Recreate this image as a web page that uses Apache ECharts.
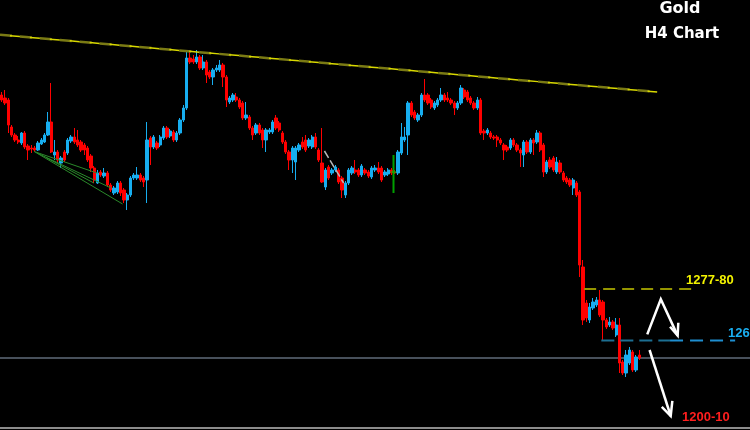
<!DOCTYPE html>
<html><head><meta charset="utf-8">
<script src="https://cdn.jsdelivr.net/npm/echarts@6/dist/echarts.min.js"></script>
<style>html,body{margin:0;padding:0;background:#000;}#c{width:750px;height:430px;}</style>
</head><body><div id="c"></div>
<script>
// H4 candles (prices)
const opens = [
1326.25,1325.5,1325,1318.25,1316.25,1315,1314.25,1316.75,1313.5,1313,
1313,1312.5,1314,1314.5,1316.25,1319.5,1311.25,1312,1309.25,1312,
1311.75,1314.75,1315.75,1315,1314.5,1313.75,1313,1311,1308,1304.25,
1307,1306,1306.75,1303.75,1301.75,1302,1304.25,1302.5,1300,1301.25,
1305.5,1305.5,1306.25,1305.5,1305,1315.5,1313.25,1314.25,1313.75,1315.5,
1318,1316,1317,1315,1316.75,1320,1323,1335.5,1335.25,1334.5,
1335.75,1333,1334.5,1332,1330.75,1332.5,1332.5,1333.75,1330.75,1324.5,
1325,1325.75,1325,1324.25,1320.5,1320.75,1318,1316.75,1318.75,1317.5,
1315,1317,1317,1320.5,1319.25,1316.75,1314.5,1312,1310,1309.5,
1312.5,1314.5,1315,1313.5,1313.25,1315.75,1312.5,1309.25,1303.25,1308.25,
1306.75,1307.5,1307.5,1305.5,1301.25,1304.25,1306.75,1307.5,1307.5,1306.25,
1307.5,1307,1305.75,1307.5,1308,1308,1306.25,1306.5,1307.5,1307,
1306.75,1311.75,1315,1316.25,1324.25,1322,1320,1321.25,1326.25,1326.25,
1325,1323,1323.75,1325,1326.25,1325.5,1325,1324.25,1323,1324.25,
1327.5,1327,1325.5,1324.25,1323,1325,1317.25,1316.75,1316.75,1315.75,
1315.75,1315,1313.75,1313.25,1313,1315,1313.75,1312.5,1311.25,1314.5,
1312,1315,1314.5,1316.75,1313.75,1307,1310,1310.5,1307,1309.25,
1306.75,1305.5,1305,1303,1304.25,1302,1283.25,1274.25,1270,1273,
1273.75,1275,1274.5,1270,1268.75,1269.5,1266.25,1268.75,1259.5,1256.75,
1259.25,1262,1257.5,1261.25];
const closes = [
1325,1324.25,1318.75,1316.25,1315,1314.5,1316.75,1313.25,1312.5,1312.75,
1312.5,1314.25,1315,1316.25,1319.5,1312,1312,1310,1310.5,1310,
1315,1315.75,1314.5,1313.75,1312.5,1312.5,1310,1308,1305,1306.75,
1306.25,1306.75,1303.75,1302.5,1303,1304.25,1301.75,1300,1301.25,1305.5,
1306.25,1306.25,1305,1304.5,1315,1313.25,1315.75,1313,1315.75,1318,
1315.75,1317.25,1315,1316.75,1320,1323,1335.5,1334.5,1334.5,1335.75,
1333,1334.5,1331.25,1330.75,1332.5,1333,1333.75,1330.75,1325,1325.5,
1326.25,1325,1323.25,1320.5,1321.25,1318,1316.25,1318.75,1316.75,1315,
1317.5,1317.5,1319.5,1318,1317.5,1314.5,1312,1310,1313,1313,
1313.75,1313.25,1312.5,1315,1315.75,1313.25,1310,1304.5,1307.5,1305.5,
1307.5,1308.25,1304.5,1302.5,1304.25,1307.5,1308,1307,1306.25,1308.5,
1306.75,1306,1308,1308,1307,1305,1307,1307.5,1306.75,1306.75,
1312,1315.75,1315.75,1324.25,1321.25,1320.5,1321.25,1326.25,1325,1324.25,
1323.25,1324.25,1325,1326.25,1325,1325,1324.25,1323,1324.25,1328,
1325.75,1325,1324.25,1323,1325,1316.75,1316.75,1317.5,1315.75,1315.5,
1315,1314.25,1312.5,1312.5,1315,1313.75,1312.5,1311.75,1314.5,1312,
1315,1314.25,1316.75,1312.5,1307,1309.5,1308.25,1307.5,1309.5,1307,
1305,1304.5,1303.75,1305,1301.25,1283.75,1270,1270.5,1273.25,1274.5,
1275,1271.25,1270,1268.25,1269.5,1268,1268.75,1259.25,1256.75,1261.25,
1262.5,1257.5,1260.75,1260.5];
const lows = [
1324.5,1323.75,1316.75,1315.75,1314.5,1314,1313.75,1312.75,1310,1311.75,
1312,1312.25,1313.75,1314.25,1316,1311.75,1310,1309.25,1308,1309.5,
1311.25,1314.25,1314,1313.25,1312,1311.25,1309.5,1307,1304.25,1304,
1305.75,1305.5,1303.25,1302,1301.25,1301.5,1301,1299.25,1297.5,1300.75,
1305,1305,1304.5,1303.25,1299.25,1308.75,1312.75,1312.5,1313.25,1315,
1315.25,1315.5,1314.5,1314.5,1316.25,1319.5,1322.5,1334,1334,1334,
1332.5,1332.5,1329.25,1330.25,1328.75,1332,1332,1328.25,1323.25,1324,
1324.5,1324.5,1322.75,1320,1320,1317.5,1315,1316.25,1316.25,1313,
1312,1316.5,1316.5,1317.5,1317,1314,1311.5,1307.5,1306.75,1305,
1312,1312.75,1312,1313,1312.75,1312.75,1309.5,1304.25,1302.5,1305,
1306.25,1307,1304,1300.5,1300.5,1303.75,1306.25,1306.5,1305.75,1305.75,
1306.25,1305.5,1305.25,1307,1306.5,1304.5,1305.75,1306,1306.25,1306.5,
1306.25,1311.25,1314.5,1311.25,1320.75,1320,1319.5,1320.75,1324.5,1323.75,
1322.75,1322.5,1323.25,1324.5,1324.5,1324.5,1323.75,1321.25,1322.5,1323.75,
1325.25,1324.5,1323.75,1322.5,1322.5,1316.25,1315,1316.25,1315.25,1315,
1313.25,1313.75,1310,1312,1312.5,1313.25,1312,1308.25,1308.25,1311.5,
1311.5,1311.25,1314,1312,1305.75,1306.5,1307.75,1307,1306.5,1306.5,
1304.5,1304,1303.25,1301.25,1300.75,1280.75,1268.75,1269.5,1269.25,1272.5,
1273.25,1270.75,1265,1267.75,1268.25,1267.5,1265.75,1256.75,1256.25,1255.75,
1258.75,1257,1257,1260];
const highs = [
1327,1327.5,1325.5,1318.75,1316.75,1316,1317,1317.25,1314,1313.75,
1313.5,1314.75,1315.5,1316.75,1322,1329.25,1315,1312.5,1311,1312.5,
1315.5,1316.25,1318,1317.5,1315,1314.25,1313.5,1311.5,1308.5,1307.5,
1307.5,1308,1307.25,1304.25,1303.5,1304.75,1304.75,1303,1301.75,1306,
1306.75,1308.25,1306.75,1306,1319.5,1316,1316.25,1314.75,1316.25,1318.5,
1318.5,1317.75,1317.5,1317.25,1320.5,1323.75,1337,1337,1336.25,1337.5,
1336.25,1336.25,1335,1332.5,1333,1333.75,1335,1334.25,1331.25,1326,
1326.75,1326.75,1325.5,1324.75,1324.5,1321.25,1318.5,1319.25,1319.25,1318,
1318,1318,1320,1321.25,1319.75,1317.25,1315,1312.5,1313.5,1313.5,
1314.25,1315.75,1316.25,1315.5,1316.25,1316.75,1313,1318,1308,1308.75,
1308,1308.75,1308,1306,1304.75,1308,1308.5,1310,1308,1309,
1308,1307.5,1308.5,1308.75,1309.5,1308.5,1307.5,1308,1308,1307.5,
1312.5,1319.25,1318.25,1324.75,1324.75,1322.5,1321.75,1326.75,1330.25,1326.75,
1325.5,1324.75,1325.5,1328,1326.75,1327,1325.5,1324.75,1324.75,1328.75,
1328,1327.5,1326,1324.75,1325.75,1325.5,1317.75,1318,1317.25,1316.25,
1316.25,1315.5,1314.25,1313.75,1315.5,1315.5,1314.25,1313,1315,1315,
1315.5,1315.5,1317.5,1317.25,1314.25,1310,1310.75,1311,1310.75,1310,
1307.25,1306,1305.5,1305.5,1304.75,1302.5,1285,1275,1274.25,1275.5,
1275.75,1277.5,1275,1270.5,1270.75,1270,1270.5,1270.5,1260,1262.5,
1263.25,1262.5,1261.25,1262.5];

// bar slots on the x axis (candles + empty space to the right for the notes)
const slotCount = 227;
const categories = Array.from({length: slotCount}, (_, i) => 'H4-' + (i + 1));

// annotation lines, in [bar index, price]
const trendLine = [[-0.5, 1341.3], [198.4, 1327.0]];
const resistLine = [[176.3, 1277.75], [209.3, 1277.75]];
const supportLineA = [[181.5, 1264.9], [202.3, 1264.9]];
const supportLineB = [[202.3, 1264.9], [222.0, 1264.9]];
const priceLine = [[-0.5, 1260.5], [226.5, 1260.5]];
const bottomLine = [[-0.5, 1243.0], [226.5, 1243.0]];
const arrowBounce = [[195.4, 1266.4], [199.5, 1275.2], [204.6, 1266.1]];
const arrowBounceHead = [[202.3, 1268.3], [204.6, 1266.1], [204.8, 1269.3]];
const arrowDrop = [[196.1, 1262.5], [202.5, 1246.0]];
const arrowDropHead = [[199.8, 1248.3], [202.5, 1246.0], [203.0, 1249.8]];
const greenFan = [
  [[9.9, 1312.1], [29.0, 1306.7]],
  [[9.9, 1312.1], [36.6, 1299.0]],
  [[10.7, 1311.75], [33.1, 1303.0]],
  [[13.7, 1310.5], [27.9, 1304.25]]
];
const greenMarker = [[118.6, 1311.25], [118.6, 1301.75]];
const greenTick = [[117.7, 1307.0], [119.5, 1307.0]];
const grayDiag = [[97.7, 1312.25], [103.5, 1304.25]];

// level texts
const titleText = 'Gold';
const subtitleText = 'H4 Chart';
const resistLabel = '1277-80';
const supportLabel = '126';
const targetLabel = '1200-10';

const candleData = opens.map((o, i) => [o, closes[i], lows[i], highs[i]]);
while (candleData.length < slotCount) candleData.push('-');

const BLUE = '#17aef0', RED = '#ff0000';
function seg(coords, style) { return {coords: coords, lineStyle: Object.assign({opacity: 1, curveness: 0}, style)}; }

const annotations = [
  seg(bottomLine, {color: '#8c8c8c', width: 2}),
  seg(priceLine, {color: '#8fa0b6', width: 1}),
  seg(trendLine, {color: '#7a7a14', width: 2.5, type: [12, 8]}),
  seg(trendLine, {color: '#d8d800', width: 1.5, type: [10, 10], dashOffset: 10}),
  seg(resistLine, {color: '#959500', width: 2, type: [12, 7]}),
  seg(supportLineA, {color: '#1c6f92', width: 2, type: [13, 6]}),
  seg(supportLineB, {color: '#1e8ed0', width: 2, type: [13, 7]}),
  ...greenFan.map(g => seg(g, {color: '#2a8a2a', width: 1})),
  seg(greenMarker, {color: '#00a000', width: 2}),
  seg(greenTick, {color: '#00c000', width: 1}),
  seg(grayDiag, {color: '#b8b8b8', width: 1.5, type: [8, 3]}),
  seg(arrowBounce, {color: '#ffffff', width: 2.5}),
  seg(arrowBounceHead, {color: '#ffffff', width: 2.5}),
  seg(arrowDrop, {color: '#ffffff', width: 2.5}),
  seg(arrowDropHead, {color: '#ffffff', width: 2.5})
];

const chart = echarts.init(document.getElementById('c'), null, {renderer: 'canvas'});
chart.setOption({
  backgroundColor: '#000000',
  animation: false,
  grid: {left: -1, right: 0, top: 0, bottom: 0, containLabel: false},
  xAxis: [
    {type: 'category', data: categories, boundaryGap: true, show: false},
    {type: 'value', min: -0.5, max: slotCount - 0.5, show: false}
  ],
  yAxis: [{type: 'value', min: 1242.5, max: 1350, show: false, splitLine: {show: false}}],
  series: [
    {
      type: 'lines', coordinateSystem: 'cartesian2d', xAxisIndex: 1, yAxisIndex: 0,
      polyline: true, silent: true, z: 1, lineStyle: {opacity: 1}, data: annotations.slice(0, 2)
    },
    {
      type: 'candlestick', xAxisIndex: 0, yAxisIndex: 0, z: 3,
      data: candleData, barWidth: 2.8,
      itemStyle: {color: BLUE, color0: RED, borderColor: BLUE, borderColor0: RED, borderWidth: 1}
    },
    {
      type: 'lines', coordinateSystem: 'cartesian2d', xAxisIndex: 1, yAxisIndex: 0,
      polyline: true, silent: true, z: 5, lineStyle: {opacity: 1}, data: annotations.slice(2)
    }
  ],
  graphic: [
    {type: 'text', x: 680, y: 9, z: 10, style: {text: titleText, fill: '#ffffff', font: 'bold 16px "DejaVu Sans"', align: 'center', verticalAlign: 'middle'}},
    {type: 'text', x: 682, y: 34, z: 10, style: {text: subtitleText, fill: '#ffffff', font: 'bold 15px "DejaVu Sans"', align: 'center', verticalAlign: 'middle'}},
    {type: 'text', x: 686, y: 280, z: 10, style: {text: resistLabel, fill: '#f2f200', font: 'bold 13px "Liberation Sans"', align: 'left', verticalAlign: 'middle'}},
    {type: 'text', x: 728, y: 333, z: 10, style: {text: supportLabel, fill: '#1aaef0', font: 'bold 13px "Liberation Sans"', align: 'left', verticalAlign: 'middle'}},
    {type: 'text', x: 682, y: 417, z: 10, style: {text: targetLabel, fill: '#ff1e1e', font: 'bold 13px "Liberation Sans"', align: 'left', verticalAlign: 'middle'}}
  ]
});
</script>
</body></html>
